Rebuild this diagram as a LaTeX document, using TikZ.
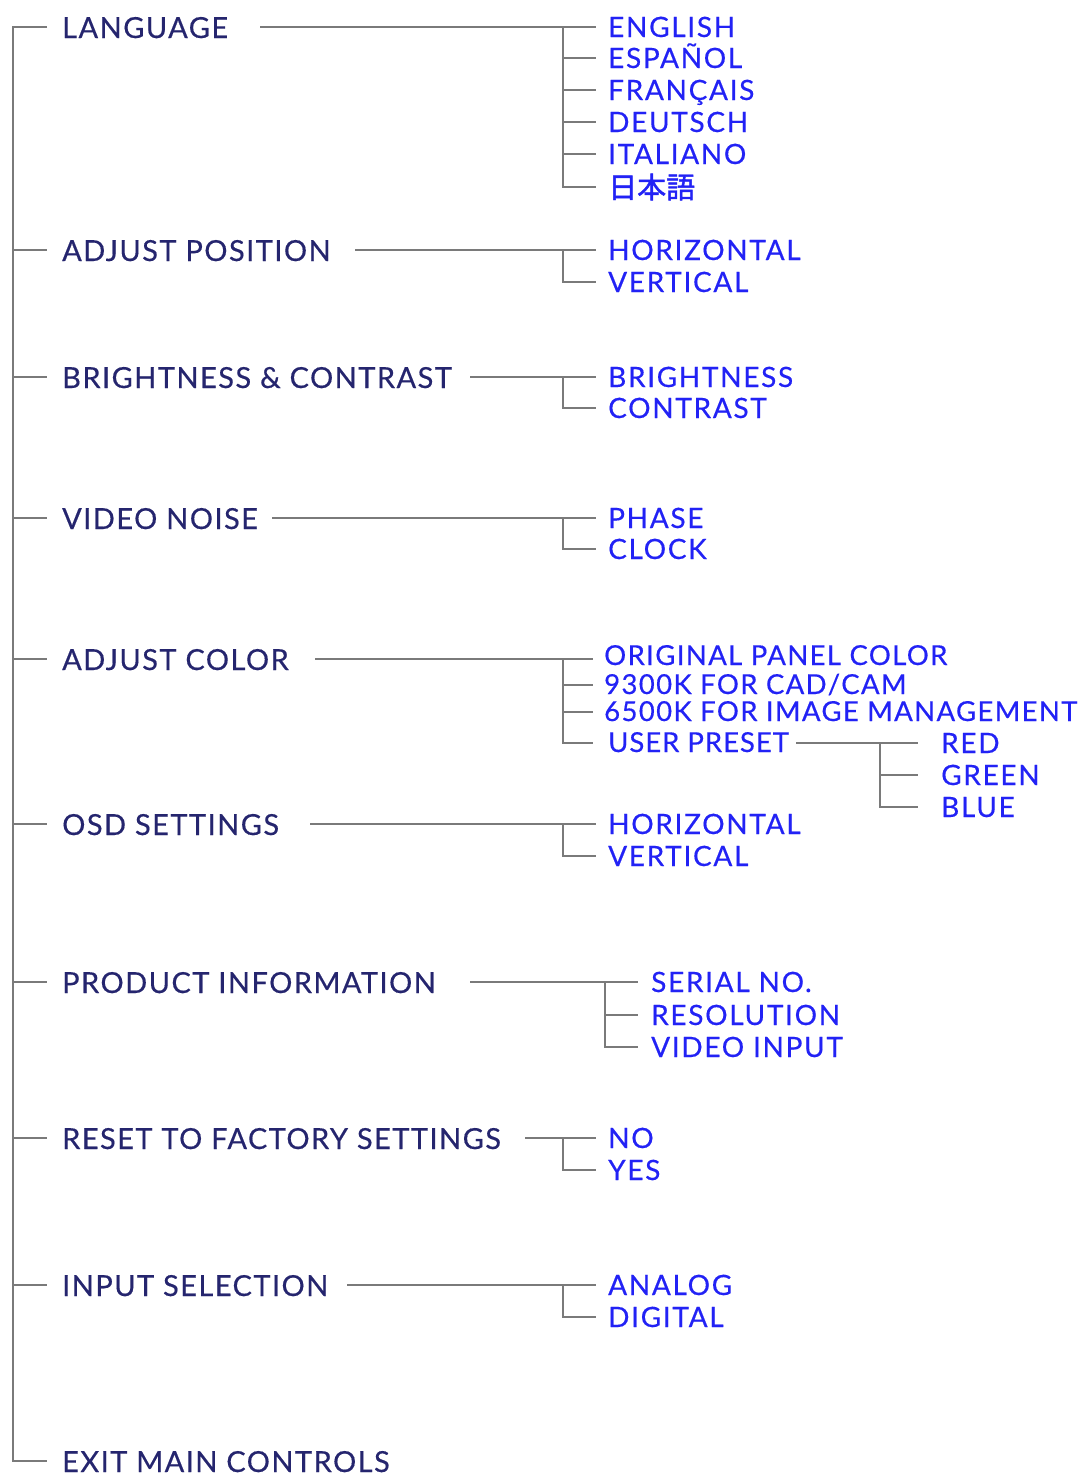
\documentclass[tikz,border=0pt]{standalone}
\usepackage{fontspec}
\setmainfont{Lato}
\newfontfamily\mainface[LetterSpace=5,FakeBold=0.4]{Lato}
\newfontfamily\itemface[LetterSpace=6,FakeBold=0.4]{Lato}
\newfontfamily\colorface[LetterSpace=5,FakeBold=0.4]{Lato}
\newfontfamily\presetface[LetterSpace=3.5,FakeBold=0.4]{Lato}
\newfontfamily\cjk[FakeBold=1.5]{Noto Sans CJK JP}
\definecolor{navy}{HTML}{25256E}
\definecolor{subblue}{HTML}{2222F5}
\definecolor{lngray}{HTML}{7A7A7A}
\begin{document}
\begin{tikzpicture}[x=1pt,y=-1pt,
  mainlbl/.style={anchor=base west,inner sep=0pt,text=navy,font=\mainface\fontsize{29}{29}\selectfont},
  itemlbl/.style={anchor=base west,inner sep=0pt,text=subblue,font=\itemface\fontsize{28}{28}\selectfont},
  colorlbl/.style={itemlbl,font=\colorface\fontsize{27.5}{27.5}\selectfont},
  presetlbl/.style={itemlbl,font=\presetface\fontsize{27.5}{27.5}\selectfont},
  conn/.style={draw=lngray,line width=2pt,line cap=butt}]
\useasboundingbox (0,0) rectangle (1090,1476);

% trunk
\coordinate (tTop) at (13,27);
\coordinate (tBot) at (13,1461);
\foreach \n/\y in {1/27,2/250,3/377,4/518,5/659,6/824,7/982,8/1138,9/1285,10/1461}{
  \coordinate (b\n) at (47,\y);
}
\draw[conn] (b1) -- (tTop) -- (tBot) -- (b10);
\foreach \n/\y in {2/250,3/377,4/518,5/659,6/824,7/982,8/1138,9/1285}{
  \draw[conn] (13,\y) -- (b\n);
}

% main labels
\node[mainlbl] (m1) at (62,38) {LANGUAGE};
\node[mainlbl] (m2) at (62,261) {ADJUST POSITION};
\node[mainlbl] (m3) at (62,388) {BRIGHTNESS \& CONTRAST};
\node[mainlbl] (m4) at (62,529) {VIDEO NOISE};
\node[mainlbl] (m5) at (62,670) {ADJUST COLOR};
\node[mainlbl] (m6) at (62,835) {OSD SETTINGS};
\node[mainlbl] (m7) at (62,993) {PRODUCT INFORMATION};
\node[mainlbl] (m8) at (62,1149) {RESET TO FACTORY SETTINGS};
\node[mainlbl] (m9) at (62,1296) {INPUT SELECTION};
\node[mainlbl] (m10) at (62,1472) {EXIT MAIN CONTROLS};

% ---- LANGUAGE
\coordinate (m1e) at (260,27);
\coordinate (j1) at (563,27);
\foreach \k/\y in {a/27,b/58,c/90,d/122,e/154,f/187}{\coordinate (l1\k) at (596,\y);}
\draw[conn] (m1e) -- (l1a);
\foreach \k in {b,c,d,e,f}{\draw[conn] (j1) |- (l1\k);}
\node[itemlbl] (s1a) at (608,37) {ENGLISH};
\node[itemlbl] (s1b) at (608,68) {ESPAÑOL};
\node[itemlbl] (s1c) at (608,100) {FRANÇAIS};
\node[itemlbl] (s1d) at (608,132) {DEUTSCH};
\node[itemlbl] (s1e) at (608,164) {ITALIANO};
\node[itemlbl,font=\cjk\fontsize{29}{29}\selectfont] (s1f) at (608,198) {日本語};

% ---- ADJUST POSITION
\coordinate (m2e) at (355,250);
\coordinate (j2) at (563,250);
\coordinate (l2a) at (596,250);
\coordinate (l2b) at (596,282);
\draw[conn] (m2e) -- (l2a);
\draw[conn] (j2) |- (l2b);
\node[itemlbl] (s2a) at (608,260) {HORIZONTAL};
\node[itemlbl] (s2b) at (608,292) {VERTICAL};

% ---- BRIGHTNESS & CONTRAST
\coordinate (m3e) at (470,377);
\coordinate (j3) at (563,377);
\coordinate (l3a) at (596,377);
\coordinate (l3b) at (596,408);
\draw[conn] (m3e) -- (l3a);
\draw[conn] (j3) |- (l3b);
\node[itemlbl] (s3a) at (608,387) {BRIGHTNESS};
\node[itemlbl] (s3b) at (608,418) {CONTRAST};

% ---- VIDEO NOISE
\coordinate (m4e) at (272,518);
\coordinate (j4) at (563,518);
\coordinate (l4a) at (596,518);
\coordinate (l4b) at (596,549);
\draw[conn] (m4e) -- (l4a);
\draw[conn] (j4) |- (l4b);
\node[itemlbl] (s4a) at (608,528) {PHASE};
\node[itemlbl] (s4b) at (608,559) {CLOCK};

% ---- ADJUST COLOR
\coordinate (m5e) at (315,659);
\coordinate (j5) at (563,659);
\coordinate (l5a) at (593,659);
\coordinate (l5b) at (593,685);
\coordinate (l5c) at (593,712);
\coordinate (l5d) at (593,743);
\draw[conn] (m5e) -- (l5a);
\foreach \k in {b,c,d}{\draw[conn] (j5) |- (l5\k);}
\node[colorlbl] (s5a) at (604,665) {ORIGINAL PANEL COLOR};
\node[colorlbl] (s5b) at (604,694) {9300K FOR CAD/CAM};
\node[colorlbl] (s5c) at (604,721) {6500K FOR IMAGE MANAGEMENT};
\node[presetlbl] (s5d) at (608,752) {USER PRESET};
% user preset sub
\coordinate (u1) at (796,743);
\coordinate (ju) at (880,743);
\coordinate (lua) at (918,743);
\coordinate (lub) at (918,775);
\coordinate (luc) at (918,807);
\draw[conn] (u1) -- (lua);
\draw[conn] (ju) |- (lub);
\draw[conn] (ju) |- (luc);
\node[itemlbl] (sua) at (941,753) {RED};
\node[itemlbl] (sub) at (941,785) {GREEN};
\node[itemlbl] (suc) at (941,817) {BLUE};

% ---- OSD SETTINGS
\coordinate (m6e) at (310,824);
\coordinate (j6) at (563,824);
\coordinate (l6a) at (596,824);
\coordinate (l6b) at (596,856);
\draw[conn] (m6e) -- (l6a);
\draw[conn] (j6) |- (l6b);
\node[itemlbl] (s6a) at (608,834) {HORIZONTAL};
\node[itemlbl] (s6b) at (608,866) {VERTICAL};

% ---- PRODUCT INFORMATION
\coordinate (m7e) at (470,982);
\coordinate (j7) at (605,982);
\coordinate (l7a) at (638,982);
\coordinate (l7b) at (638,1015);
\coordinate (l7c) at (638,1047);
\draw[conn] (m7e) -- (l7a);
\draw[conn] (j7) |- (l7b);
\draw[conn] (j7) |- (l7c);
\node[itemlbl] (s7a) at (651,992) {SERIAL NO.};
\node[itemlbl] (s7b) at (651,1025) {RESOLUTION};
\node[itemlbl] (s7c) at (651,1057) {VIDEO INPUT};

% ---- RESET
\coordinate (m8e) at (525,1138);
\coordinate (j8) at (563,1138);
\coordinate (l8a) at (596,1138);
\coordinate (l8b) at (596,1170);
\draw[conn] (m8e) -- (l8a);
\draw[conn] (j8) |- (l8b);
\node[itemlbl] (s8a) at (608,1148) {NO};
\node[itemlbl] (s8b) at (608,1180) {YES};

% ---- INPUT SELECTION
\coordinate (m9e) at (347,1285);
\coordinate (j9) at (563,1285);
\coordinate (l9a) at (596,1285);
\coordinate (l9b) at (596,1317);
\draw[conn] (m9e) -- (l9a);
\draw[conn] (j9) |- (l9b);
\node[itemlbl] (s9a) at (608,1295) {ANALOG};
\node[itemlbl] (s9b) at (608,1327) {DIGITAL};
\end{tikzpicture}
\end{document}
